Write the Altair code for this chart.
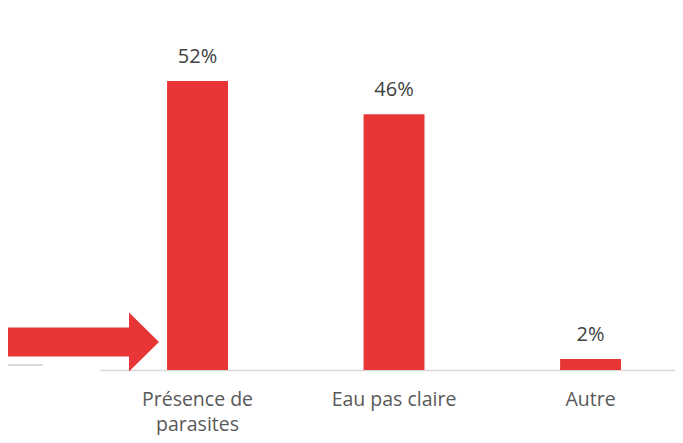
import altair as alt
import pandas as pd

categories = ["Présence de parasites", "Eau pas claire", "Autre"]
values = [52, 46, 2]
value_labels = ["52%", "46%", "2%"]

df = pd.DataFrame({"cat": categories, "val": values, "lab": value_labels})

RED = "#E83535"

x_enc = alt.X(
    "cat:N",
    sort=categories,
    title=None,
    scale=alt.Scale(paddingInner=0.69, paddingOuter=0.308, align=0.554, round=False),
    axis=alt.Axis(
        labelExpr="datum.label == 'Présence de parasites' ? ['Présence de', 'parasites'] : datum.label",
        labelAngle=0,
        ticks=False,
        tickSize=0,
        labelPadding=35,
        labelBaseline="alphabetic",
        labelLineHeight=25,
        labelFont="Open Sans",
        labelFontSize=19.5,
        labelColor="#595959",
        domainColor="#D9D9D9",
        domainWidth=1.5,
        grid=False,
    ),
)
y_enc = alt.Y("val:Q", scale=alt.Scale(domain=[0, 65.13], nice=False, zero=True), axis=None)

bars = alt.Chart(df).mark_bar(color=RED).encode(x=x_enc, y=y_enc)

texts = alt.Chart(df).mark_text(
    font="Open Sans", fontSize=20, color="#404040", baseline="alphabetic", dy=-18
).encode(x=x_enc, y=y_enc, text="lab:N")

dummy = alt.Data(values=[{"k": 1}])

arrow_path = "M-1,-0.192 L0.603,-0.192 L0.603,-0.391 L1,0 L0.603,0.391 L0.603,0.192 L-1,0.192 Z"
arrow = alt.Chart(dummy).mark_point(
    shape=arrow_path, filled=True, color=RED, opacity=1, strokeWidth=0, size=22801
).encode(x=alt.value(-16.5), y=alt.value(334))

left_line = alt.Chart(dummy).mark_rule(color="#D9D9D9", strokeWidth=2).encode(
    x=alt.value(-92), x2=alt.value(-57), y=alt.value(357)
)

chart = (
    alt.layer(left_line, bars, texts, arrow)
    .properties(
        width=575,
        height=362,
        background="white",
        autosize=alt.AutoSizeParams(type="none"),
        padding={"left": 92, "top": 0, "right": 0, "bottom": 65},
    )
    .configure_view(strokeWidth=0, stroke="transparent")
    .configure_axis(grid=False)
)

chart.save("out.html", embed_options={"renderer": "svg", "actions": False})
